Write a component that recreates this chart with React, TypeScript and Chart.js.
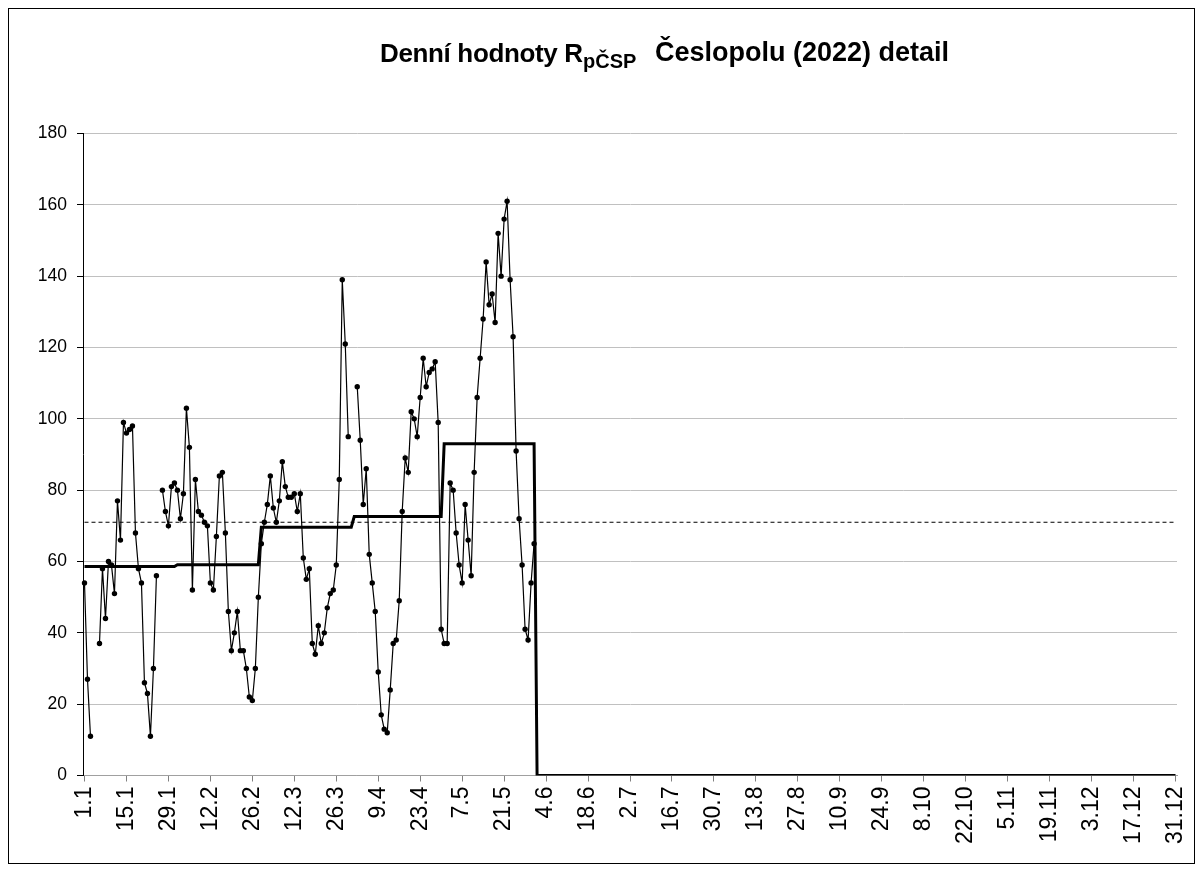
import React, { useEffect, useRef } from 'react';
import { Chart, registerables } from 'chart.js';

Chart.register(...registerables);

// Month lengths of 2022 (category axis: one category per day)
const monthDays = [31, 28, 31, 30, 31, 30, 31, 31, 30, 31, 30, 31];

// Daily values R_pČSP (null = missing day)
const dailyJan = [54, 27, 11, null, null, 37, 58, 44, 60, 59, 51, 77, 66, 99, 96, 97, 98, 68, 58, 54, 26, 23, 11, 30, 56, null, 80, 74, 70, 81, 82];
const dailyFeb = [80, 72, 79, 103, 92, 52, 83, 74, 73, 71, 70, 54, 52, 67, 84, 85, 68, 46, 35, 40, 46, 35, 35, 30, 22, 21, 30, 50];
const dailyMar = [65, 71, 76, 84, 75, 71, 77, 88, 81, 78, 78, 79, 74, 79, 61, 55, 58, 37, 34, 42, 37, 40, 47, 51, 52, 59, 83, 139, 121, 95, null];
const dailyApr = [null, 109, 94, 76, 86, 62, 54, 46, 29, 17, 13, 12, 24, 37, 38, 49, 74, 89, 85, 102, 100, 95, 106, 117, 109, 113, 114, 116, 99, 41];
const dailyMay = [37, 37, 82, 80, 68, 59, 54, 76, 66, 56, 85, 106, 117, 128, 144, 132, 135, 127, 152, 140, 156, 161, 139, 123, 91, 72, 59, 41, 38, 54, 65];

// Monthly averages (step line)
const monthlyMean = [58.6, 59.1, 69.6, 72.6, 93.0, 0, 0, 0, 0, 0, 0, 0];

// Long-term average (dashed line)
const longTermMean = 71;

// Y axis
const yMin = 0;
const yMax = 180;
const yStep = 20;

// Every 14th day is labelled
const labelEvery = 14;

// Title parts
const titleMain = 'Denní hodnoty R';
const titleSub = 'pČSP';
const titleRest = 'Česlopolu (2022) detail';

const FONT = '"Liberation Sans", Arial, Helvetica, sans-serif';

export default function App() {
  const canvasRef = useRef<HTMLCanvasElement | null>(null);

  useEffect(() => {
    const labels: string[] = [];
    const monthOfDay: number[] = [];
    monthDays.forEach((n, m) => {
      for (let d = 1; d <= n; d++) {
        labels.push(`${d}.${m + 1}`);
        monthOfDay.push(m);
      }
    });
    const daily = [...dailyJan, ...dailyFeb, ...dailyMar, ...dailyApr, ...dailyMay];
    const step = monthOfDay.map((m) => monthlyMean[m]);
    const dashed = labels.map(() => longTermMean);

    const chart = new Chart(canvasRef.current as HTMLCanvasElement, {
      type: 'line',
      data: {
        labels,
        datasets: [
          {
            label: 'denní hodnoty',
            data: daily,
            borderColor: '#000',
            backgroundColor: '#000',
            borderWidth: 1.2,
            pointRadius: 2.7,
            pointBorderWidth: 0,
            pointBackgroundColor: '#000',
            tension: 0,
            spanGaps: false,
          },
          {
            label: 'měsíční průměr',
            data: step,
            borderColor: '#000',
            borderWidth: 3,
            pointRadius: 0,
            tension: 0,
          },
          {
            label: 'dlouhodobý průměr',
            data: dashed,
            borderColor: '#000',
            borderWidth: 1.2,
            borderDash: [4, 3],
            pointRadius: 0,
            tension: 0,
          },
        ],
      },
      options: {
        animation: false,
        responsive: true,
        maintainAspectRatio: false,
        layout: { padding: { top: 124.5, right: 17, left: 0, bottom: 0 } },
        plugins: {
          legend: { display: false },
          title: { display: false },
          tooltip: { enabled: false },
        },
        scales: {
          x: {
            type: 'category',
            offset: true,
            afterFit: (scale: any) => {
              scale.height = 87.5;
              scale.paddingLeft = 0;
              scale.paddingRight = 0;
            },
            border: { color: '#a0a0a0', width: 1 },
            grid: {
              display: true,
              drawOnChartArea: false,
              offset: false,
              tickLength: 6,
              tickColor: (ctx: any) => (ctx.index % labelEvery === 0 ? '#808080' : 'rgba(0,0,0,0)'),
            },
            ticks: {
              autoSkip: false,
              maxRotation: 90,
              minRotation: 90,
              padding: 5,
              color: '#000',
              font: { family: FONT, size: 23 },
              callback: (_v: any, i: number) => (i % labelEvery === 0 ? labels[i] : ''),
            },
          },
          y: {
            min: yMin,
            max: yMax,
            afterFit: (scale: any) => {
              scale.width = 74;
              scale.paddingTop = 0;
              scale.paddingBottom = 0;
            },
            border: { color: '#000', width: 1 },
            grid: {
              color: '#c0c0c0',
              lineWidth: 1,
              tickLength: 6,
              tickColor: '#000',
            },
            ticks: {
              stepSize: yStep,
              padding: 10,
              color: '#000',
              font: { family: FONT, size: 17.5 },
            },
          },
        },
      },
    });
    return () => chart.destroy();
  }, []);

  const titleBase: React.CSSProperties = {
    position: 'absolute',
    fontFamily: FONT,
    fontWeight: 'bold',
    lineHeight: 1,
    whiteSpace: 'pre',
    color: '#000',
  };

  return (
    <div
      style={{
        position: 'relative',
        width: 1185,
        height: 854,
        border: '1px solid #000',
        background: '#fff',
      }}
    >
      <canvas ref={canvasRef} />
      <div style={{ ...titleBase, left: 371, top: 31, fontSize: 26, letterSpacing: '-0.35px' }}>{titleMain}</div>
      <div style={{ ...titleBase, left: 574, top: 42, fontSize: 20 }}>{titleSub}</div>
      <div style={{ ...titleBase, left: 646, top: 30, fontSize: 27 }}>{titleRest}</div>
    </div>
  );
}
